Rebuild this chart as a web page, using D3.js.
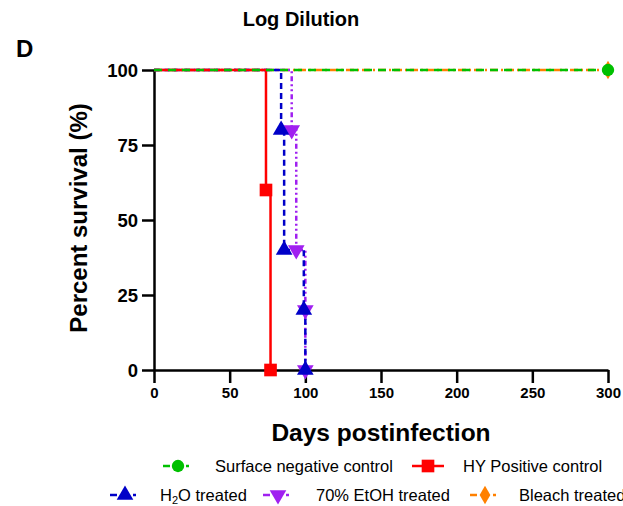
<!DOCTYPE html>
<html>
<head>
<meta charset="utf-8">
<script src="https://cdn.jsdelivr.net/npm/d3@7"></script>
<style>
  body { margin: 0; background: #fff; }
  svg { font-family: "Liberation Sans", Arial, sans-serif; }
</style>
</head>
<body>
<svg id="chart" width="623" height="506"></svg>
<script>
const w = 623, h = 506;

// survival data: [day, percent]
const surfaceNeg = [[0, 100], [300, 100]];
const hyPositive = [[0, 100], [74, 60], [77, 0]];
const h2oTreated = [[0, 100], [84, 80], [86, 40], [99, 20], [100, 0]];
const etohTreated = [[0, 100], [91, 80], [94, 40], [100, 20], [100, 0]];
const bleachTreated = [[0, 100], [300, 100]];

const xTicks = [0, 50, 100, 150, 200, 250, 300];
const yTicks = [0, 25, 50, 75, 100];

const series = [
  {name: 'Bleach treated', data: bleachTreated, color: '#ff8000', dash: '8,3,2,3', sym: d3.symbolDiamond, mark: [1]},
  {name: '70% EtOH treated', data: etohTreated, color: '#a020f0', dash: '5,3,2,3,2,3', sym: 'down', mark: [1, 2, 3, 4]},
  {name: 'H2O treated', data: h2oTreated, color: '#0000c8', dash: '6,4', sym: d3.symbolTriangle, mark: [1, 2, 3, 4]},
  {name: 'HY Positive control', data: hyPositive, color: '#ff0000', dash: null, sym: d3.symbolSquare, mark: [1, 2]},
  {name: 'Surface negative control', data: surfaceNeg, color: '#00c000', dash: '8,6', sym: d3.symbolCircle, mark: [1]}
];

const margin = {left: 154, right: 15, top: 70, bottom: 136};

const x = d3.scaleLinear().domain([0, 300]).range([margin.left, w - margin.right]);
const y = d3.scaleLinear().domain([0, 100]).range([h - margin.bottom, margin.top]);

const svg = d3.select('#chart');

/* Titles */
svg.append('text').text('Log Dilution')
  .attr('x', 301).attr('y', 26).attr('text-anchor', 'middle')
  .style('font-size', '20px').style('font-weight', 'bold');
svg.append('text').text('D')
  .attr('x', 16).attr('y', 57)
  .style('font-size', '24px').style('font-weight', 'bold');

/* Axes */
const xAxis = d3.axisBottom(x).tickValues(xTicks).tickSize(13).tickSizeOuter(0).tickPadding(4);
const yAxis = d3.axisLeft(y).tickValues(yTicks).tickSize(12).tickSizeOuter(0).tickPadding(4);

const gx = svg.append('g').attr('transform', `translate(0, ${y(0)})`).call(xAxis);
const gy = svg.append('g').attr('transform', `translate(${x(0)}, 0)`).call(yAxis);
[gx, gy].forEach(g => {
  g.select('.domain').attr('stroke', '#000').attr('stroke-width', 2.5);
  g.selectAll('.tick line').attr('stroke', '#000').attr('stroke-width', 2.5);
  g.selectAll('.tick text').attr('fill', '#000')
    .style('font-family', '"Liberation Sans", Arial, sans-serif')
    .style('font-weight', 'bold');
});
gx.selectAll('.tick text').style('font-size', '15px');
gy.selectAll('.tick text').style('font-size', '18.5px').attr('dy', '0.36em');

svg.append('text').text('Days postinfection')
  .attr('x', 381).attr('y', 441).attr('text-anchor', 'middle')
  .style('font-size', '24.5px').style('font-weight', 'bold');
svg.append('text').text('Percent survival (%)')
  .attr('transform', `translate(87, 218) rotate(-90)`).attr('text-anchor', 'middle')
  .style('font-size', '24px').style('font-weight', 'bold');

/* Curves */
const line = d3.line().x(d => x(d[0])).y(d => y(d[1])).curve(d3.curveStepAfter);

function symPath(s, size) {
  if (s === 'down') return d3.symbol(d3.symbolTriangle, size)();
  return d3.symbol(s, size)();
}
function symSize(s) {
  if (s === d3.symbolSquare) return 160;
  if (s === d3.symbolCircle) return 120;
  if (s === d3.symbolDiamond) return 100;
  return 120;
}

series.forEach(s => {
  svg.append('path').datum(s.data)
    .attr('d', line)
    .attr('fill', 'none')
    .attr('stroke', s.color)
    .attr('stroke-width', 2.5)
    .attr('stroke-dasharray', s.dash);
});
series.forEach(s => {
  svg.selectAll(null).data(s.mark.map(i => s.data[i])).enter()
    .append('path')
    .attr('d', symPath(s.sym, symSize(s.sym)))
    .attr('transform', d => `translate(${x(d[0])}, ${y(d[1])})` + (s.sym === 'down' ? ' rotate(180)' : ''))
    .attr('fill', s.color);
});

/* Legend */
const legendPos = {
  'Surface negative control': [178, 466, 215],
  'HY Positive control': [428, 466, 463],
  'H2O treated': [125, 495, 160],
  '70% EtOH treated': [278, 495, 316],
  'Bleach treated': [485, 495, 519]
};
series.forEach(s => {
  const [cx, cy, tx] = legendPos[s.name];
  const g = svg.append('g');
  if (s.dash === null) {
    g.append('line').attr('x1', cx - 16).attr('x2', cx + 16).attr('y1', cy).attr('y2', cy)
      .attr('stroke', s.color).attr('stroke-width', 2.5);
  } else {
    g.append('line').attr('x1', cx - 15).attr('x2', cx - 8).attr('y1', cy).attr('y2', cy)
      .attr('stroke', s.color).attr('stroke-width', 2.5);
    g.append('line').attr('x1', cx + 8).attr('x2', cx + 11).attr('y1', cy).attr('y2', cy)
      .attr('stroke', s.color).attr('stroke-width', 2.5);
  }
  g.append('path').attr('d', symPath(s.sym, symSize(s.sym)))
    .attr('transform', `translate(${cx}, ${cy})` + (s.sym === 'down' ? ' rotate(180)' : ''))
    .attr('fill', s.color);
  const t = g.append('text').attr('x', tx).attr('y', cy + 6).style('font-size', '16.5px');
  if (s.name === 'H2O treated') {
    t.append('tspan').text('H');
    t.append('tspan').text('2').style('font-size', '11px').attr('dy', 3);
    t.append('tspan').text('O treated').attr('dy', -3);
  } else {
    t.text(s.name);
  }
});
</script>
</body>
</html>
